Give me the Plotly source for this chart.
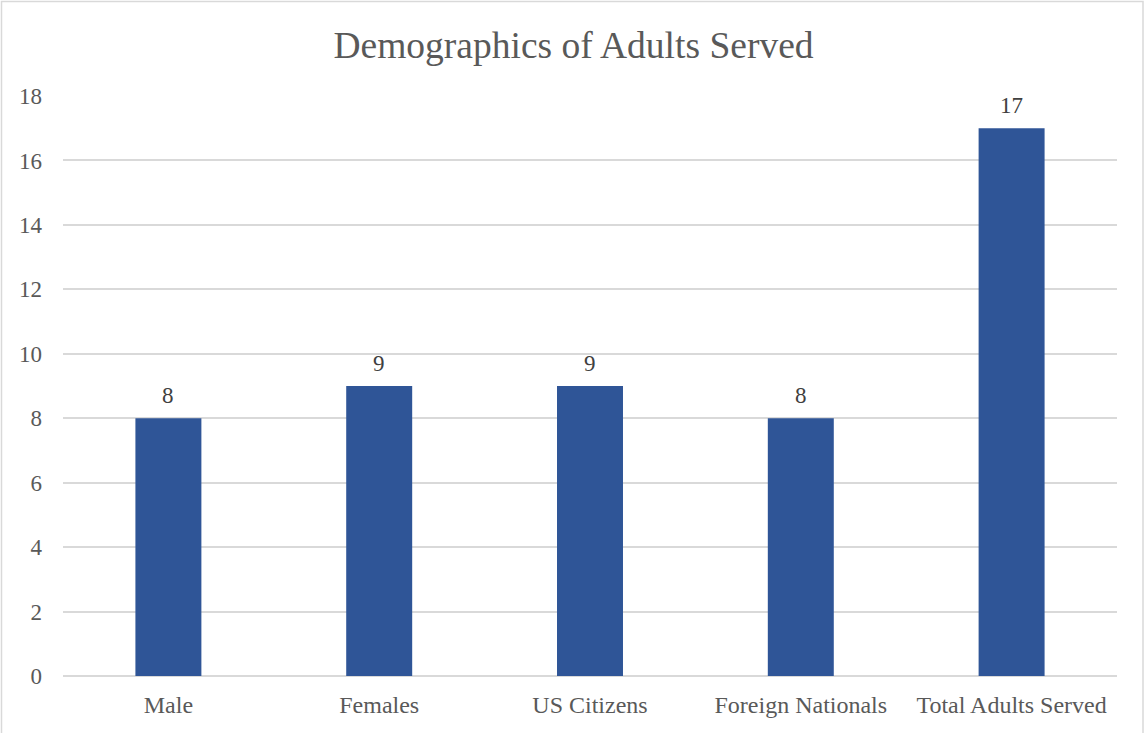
import plotly.graph_objects as go

categories = ["Male", "Females", "US Citizens", "Foreign Nationals", "Total Adults Served"]
values = [8, 9, 9, 8, 17]
y_ticks = [0, 2, 4, 6, 8, 10, 12, 14, 16, 18]

W, H = 1147, 733
L, R, T, B = 63, 30, 96, 57
pw, ph = W - L - R, H - T - B

def px_x(px):
    return (px - L) / pw

def px_y(py):
    return (H - B - py) / ph

fig = go.Figure()
fig.add_trace(go.Bar(
    x=categories, y=values,
    marker=dict(color="#2F5597", line=dict(width=0)),
    width=0.313,
))

for c, v in zip(categories, values):
    fig.add_annotation(x=c, y=v, text=str(v), showarrow=False,
                       yanchor="middle", yshift=23,
                       font=dict(family="Liberation Serif", size=23, color="#404040"))

fig.update_layout(
    width=W, height=H,
    margin=dict(l=L, r=R, t=T, b=B),
    paper_bgcolor="white", plot_bgcolor="white",
    font=dict(family="Liberation Serif", size=23, color="#595959"),
    title=dict(text="Demographics of Adults Served", x=0.5, xanchor="center",
               y=1 - 45 / H, yanchor="middle",
               font=dict(family="Liberation Serif", size=37.5, color="#595959")),
    showlegend=False,
    xaxis=dict(showgrid=False, showline=False, zeroline=False,
               tickfont=dict(size=24, color="#595959"), ticklabelstandoff=12),
    yaxis=dict(range=[0, 18], tickvals=y_ticks, showgrid=True, gridcolor="#D9D9D9",
               gridwidth=1.5, zeroline=True, zerolinecolor="#D9D9D9", zerolinewidth=1.5,
               showline=False, tickfont=dict(size=23, color="#595959"),
               ticklabelstandoff=20),
    shapes=[dict(type="rect", xref="paper", yref="paper",
                 x0=px_x(1.5), x1=px_x(1143), y0=px_y(745), y1=px_y(1.5),
                 line=dict(color="#D9D9D9", width=1.5), fillcolor="rgba(0,0,0,0)",
                 layer="below")],
)

fig.write_html("out.html", config={"displayModeBar": False},
               post_script="document.body.style.margin='0px';")
